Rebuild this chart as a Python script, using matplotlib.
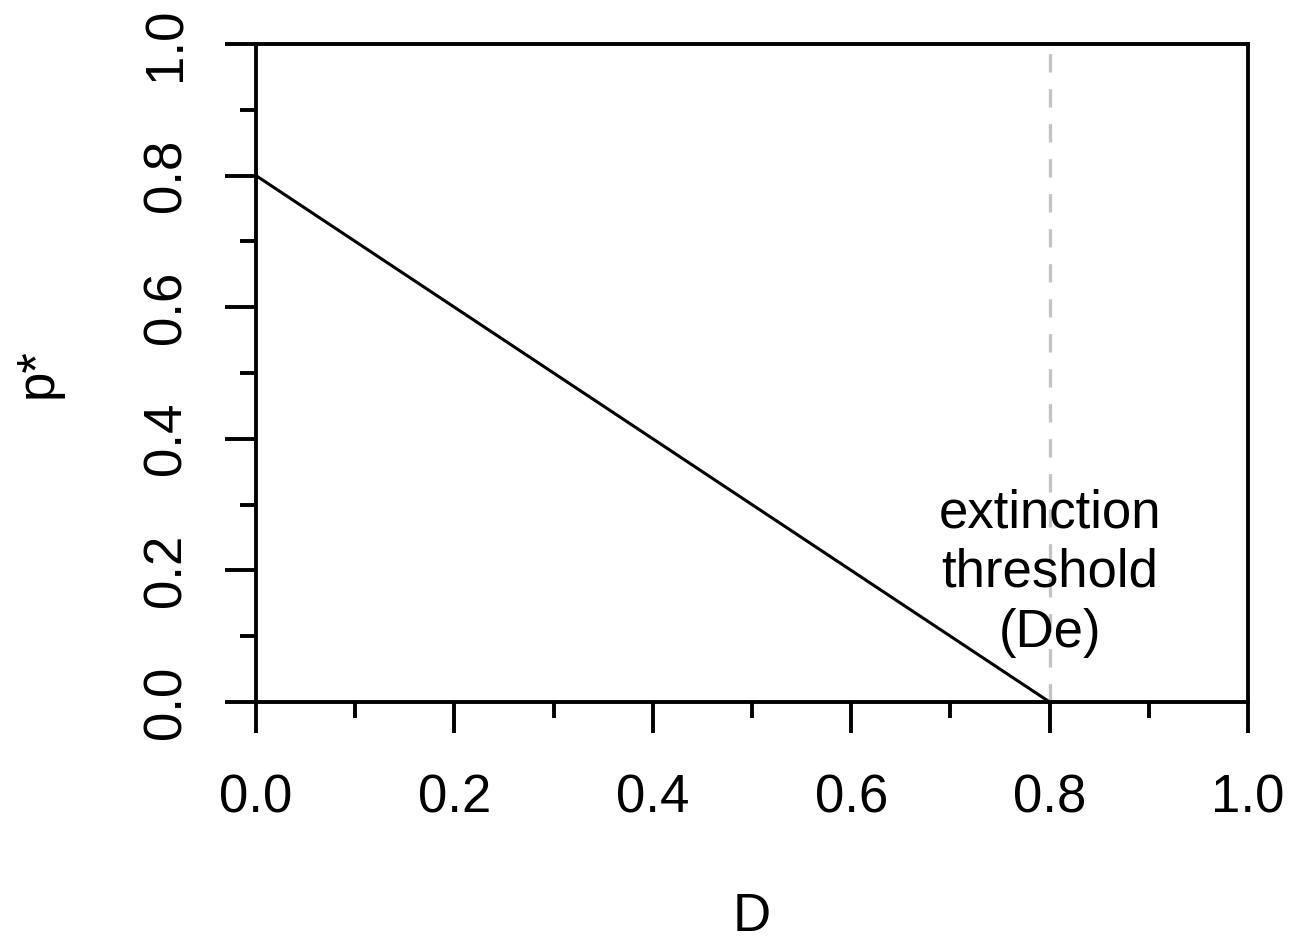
import matplotlib
matplotlib.use("Agg")
import matplotlib.pyplot as plt
from matplotlib.ticker import MultipleLocator

plt.rcParams['font.family'] = ['Liberation Sans', 'DejaVu Sans']

# data
D_vals = [0.0, 0.8]
p_vals = [0.8, 0.0]
De = 0.8
x_ticks = [0.0, 0.2, 0.4, 0.6, 0.8, 1.0]
y_ticks = [0.0, 0.2, 0.4, 0.6, 0.8, 1.0]
tick_labels = ["0.0", "0.2", "0.4", "0.6", "0.8", "1.0"]
annot = "extinction\nthreshold\n(De)"

fig = plt.figure(figsize=(13.14, 9.43), dpi=100)
ax = fig.add_axes([256/1314, 241/943, (1248-256)/1314, (899-241)/943])

lw_box = 2.8
fs = 38

ax.plot(D_vals, p_vals, color='black', lw=2.2, solid_capstyle='butt', zorder=3)
ax.axvline(De, color='#c4c4c4', lw=2.4, linestyle=(0, (5.5, 5)), zorder=2)
ax.text(De, 0.325, annot, ha='center', va='top', fontsize=fs, linespacing=1.25)

ax.set_xlim(0, 1)
ax.set_ylim(0, 1)
for s in ax.spines.values():
    s.set_linewidth(lw_box)

ax.set_xticks(x_ticks)
ax.set_xticklabels(tick_labels)
ax.set_yticks(y_ticks)
ax.set_yticklabels(tick_labels, rotation=90, va='center')
ax.xaxis.set_minor_locator(MultipleLocator(0.1))
ax.yaxis.set_minor_locator(MultipleLocator(0.1))
ax.tick_params(which='major', length=22.5, width=lw_box, labelsize=fs, pad=29)
ax.tick_params(which='minor', length=11.5, width=lw_box)
ax.tick_params(axis='y', which='major', pad=24)

xl = ax.set_xlabel("D", fontsize=fs, labelpad=49)
ax.set_ylabel("p*", fontsize=fs, labelpad=57)

fig.savefig("out.png", dpi=100)
